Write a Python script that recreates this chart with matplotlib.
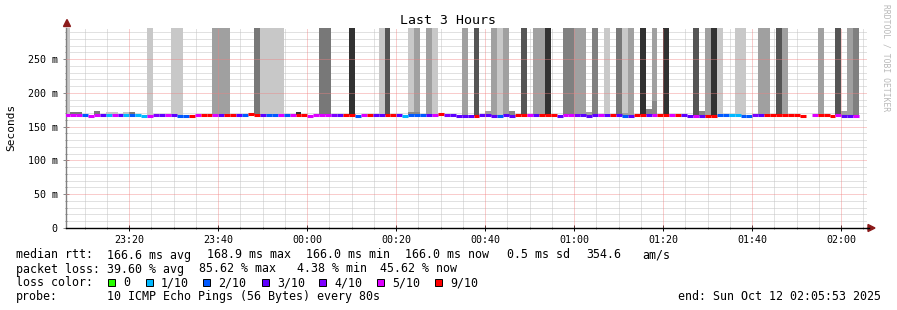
import numpy as np
import matplotlib
matplotlib.use("Agg")
import matplotlib.pyplot as plt
from matplotlib.patches import Polygon, Rectangle

# ---------------- data ----------------
title = "Last 3 Hours"
ylabel = "Seconds"
start_min = -54.12          # 23:05:53, minutes relative to midnight
end_min = 125.88            # 02:05:53
first_sample_min = -54.59   # start of first 80 s sample
step_sec = 80

xtick_min = [-40, -20, 0, 20, 40, 60, 80, 100, 120]
xtick_labels = ["23:20", "23:40", "00:00", "00:20", "00:40", "01:00", "01:20", "01:40", "02:00"]
ytick_vals = [0, 50, 100, 150, 200, 250]
ytick_labels = ["0", "50 m", "100 m", "150 m", "200 m", "250 m"]

nan = float("nan")
median_ms = [
    167.0, 167.0, 167.0, 167.0, 166.0, 167.0, 167.0, 167.0, 167.0, 167.0,
    167.0, 167.0, 167.0, 166.0, 166.0, 167.0, 167.0, 167.0, 167.0, 166.0,
    166.0, 166.0, 167.0, 167.0, 167.0, 167.0, 167.0, 167.0, 167.0, 167.0,
    167.0, 168.9, 167.0, 167.0, 167.0, 167.0, 167.0, 167.0, 167.0, 167.0,
    167.0, 166.0, 167.0, 167.0, 167.0, 167.0, 167.0, 167.0, 167.0, 166.0,
    167.0, 167.0, 167.0, 167.0, 167.0, 167.0, 167.0, 166.0, 167.0, 167.0,
    167.0, 167.0, 167.0, 168.9, 167.0, 167.0, 166.0, 166.0, 166.0, 166.0,
    167.0, 167.0, 166.0, 166.0, 167.0, 166.0, 167.0, 167.0, 167.0, 167.0,
    167.0, 167.0, 167.0, 166.0, 167.0, 167.0, 167.0, 167.0, 166.0, 167.0,
    167.0, 167.0, 167.0, 167.0, 166.0, 166.0, 167.0, 167.0, 167.0, 167.0,
    167.0, 167.0, 167.0, 167.0, 167.0, 166.0, 166.0, 166.0, 166.0, 166.0,
    167.0, 167.0, 167.0, 167.0, 166.0, 166.0, 167.0, 167.0, 167.0, 167.0,
    167.0, 167.0, 167.0, 167.0, 166.0, nan, 167.0, 167.0, 167.0, 166.0,
    167.0, 166.0, 166.0, 166.0,
]
loss_tenths = [
    5, 5, 5, 2, 5, 5, 3, 1, 5, 3,
    1, 2, 1, 1, 5, 4, 3, 5, 3, 2,
    2, 9, 5, 9, 9, 5, 3, 9, 9, 3,
    2, 9, 9, 3, 2, 2, 5, 2, 5, 9,
    9, 5, 5, 5, 5, 4, 3, 9, 9, 2,
    5, 9, 3, 3, 9, 9, 3, 1, 2, 2,
    2, 3, 5, 9, 4, 3, 3, 3, 3, 9,
    3, 3, 3, 2, 3, 3, 9, 9, 5, 3,
    9, 9, 9, 3, 5, 5, 4, 3, 3, 3,
    5, 3, 9, 3, 2, 3, 9, 9, 3, 5,
    9, 9, 5, 9, 3, 3, 5, 3, 9, 9,
    2, 2, 1, 1, 2, 2, 4, 3, 9, 9,
    9, 9, 9, 9, 9, None, 5, 9, 9, 9,
    5, 3, 3, 5,
]

# smoke: sample index (0 = first sample), top of smoke (ms), grey level
smoke_sample = [0, 14, 18, 19, 25, 26, 27, 32, 33, 34, 35, 36, 43, 44, 48, 53, 54,
                58, 59, 61, 62, 67, 69, 72, 73, 74, 77, 79, 80, 81, 84, 85, 86, 87,
                89, 91, 93, 94, 95, 97, 99, 101, 106, 108, 109, 110, 113, 114, 117,
                118, 120, 121, 127, 130, 132, 133,
                1, 2, 5, 7, 8, 10, 11, 39, 58, 59, 71, 75, 88, 94, 98, 99, 107, 131]
smoke_top_ms = [400] * 56 + [171, 171, 173, 171, 171, 171, 171, 172, 172, 172,
                             173.5, 173.5, 172, 170, 176, 188, 173, 173]
smoke_grey = [200, 200, 200, 200, 160, 160, 160, 120, 200, 200, 200, 200, 120, 120, 50,
              200, 85, 200, 160, 160, 200, 160, 85, 160, 200, 160, 85, 160, 160, 50,
              128, 128, 160, 160, 128, 200, 120, 200, 160, 50, 160, 50, 85, 160, 50,
              200, 200, 200, 160, 160, 85, 160, 160, 85, 160, 128,
              120, 120, 120, 200, 200, 200, 120, 50, 136, 136, 160, 136, 160, 160,
              136, 136, 136, 160]

loss_color = {0: "#26ff00", 1: "#00b8ff", 2: "#0059ff", 3: "#5e00ff",
              4: "#7e00ff", 5: "#dd00ff", 9: "#ff0000"}
legend_loss = [0, 1, 2, 3, 4, 5, 9]
legend_loss_labels = ["0", "1/10", "2/10", "3/10", "4/10", "5/10", "9/10"]

stats_rtt = ["166.6 ms avg", "168.9 ms max", "166.0 ms min", "166.0 ms now", "0.5 ms sd", "354.6", "am/s"]
stats_loss = ["39.60 % avg", "85.62 % max", "4.38 % min", "45.62 % now"]
probe_text = "10 ICMP Echo Pings (56 Bytes) every 80s"
end_text = "end: Sun Oct 12 02:05:53 2025"
credit = "RRDTOOL / TOBI OETIKER"

# ---------------- figure ----------------
W, H = 897, 310
fig = plt.figure(figsize=(W / 100, H / 100), dpi=100)
fig.patch.set_facecolor("white")
MONO = "DejaVu Sans Mono"


def fx(px):
    return px / W


def fy(py):
    return 1 - py / H


ax_left, ax_right, ax_top, ax_bot = 66.2, 867.2, 28.0, 228.0
ax = fig.add_axes([fx(ax_left), fy(ax_bot), (ax_right - ax_left) / W, (ax_bot - ax_top) / H])
ax.set_facecolor("white")
ax.set_xlim(start_min, end_min)
ax.set_ylim(0, 296)

step_min = step_sec / 60.0
t_start = [first_sample_min + i * step_min for i in range(len(median_ms))]

# grid (minor behind, major on top)
dot = (0, (1, 1))
minor_x = [m for m in np.arange(-50, 126, 5) if m % 20 != 0]
minor_y = [v for v in range(10, 300, 10) if v % 50 != 0]
for m in minor_x:
    ax.axvline(m, color="#c4c4c4", lw=0.72, ls=dot, zorder=0.5)
for v in minor_y:
    ax.axhline(v, color="#c4c4c4", lw=0.72, ls=dot, zorder=0.5)

# smoke
for s, top, g in zip(smoke_sample, smoke_top_ms, smoke_grey):
    b = median_ms[s]
    c = "#%02x%02x%02x" % (g, g, g)
    ax.bar(t_start[s], top - b, width=step_min, bottom=b, align="edge",
           color=c, linewidth=0, zorder=2, antialiased=False)

# median line coloured by loss
for t, m, l in zip(t_start, median_ms, loss_tenths):
    if l is None or np.isnan(m):
        continue
    lc = ax.hlines(m, t, t + step_min, colors=loss_color[l], lw=2.2, zorder=4)
    lc.set_capstyle("butt")

for m in xtick_min:
    ax.axvline(m, color="#f08080", lw=0.72, ls=dot, zorder=5, alpha=0.8)
for v in ytick_vals[1:]:
    ax.axhline(v, color="#f08080", lw=0.72, ls=dot, zorder=5, alpha=0.8)

ax.set_xticks(xtick_min)
ax.set_xticklabels(xtick_labels, fontfamily=MONO, fontsize=7.2)
ax.set_yticks(ytick_vals)
ax.set_yticklabels(ytick_labels, fontfamily=MONO, fontsize=7.2)
ax.set_xticks(minor_x, minor=True)
ax.set_yticks(minor_y, minor=True)
ax.tick_params(axis="both", which="major", direction="inout", length=4, width=0.7, pad=3, colors="black")
ax.tick_params(axis="both", which="minor", direction="inout", length=2, width=0.7, colors="#888888")
ax.tick_params(axis="y", which="major", colors="#888888", labelcolor="black", pad=4)
for sp in ["top", "right"]:
    ax.spines[sp].set_visible(False)
ax.spines["left"].set_color("#808080")
ax.spines["left"].set_linewidth(1.0)
ax.spines["bottom"].set_color("black")
ax.spines["bottom"].set_linewidth(1.0)
ax.spines["bottom"].set_zorder(6)

# arrows
arrow_col = "#8b1a1a"
fig.patches.append(Polygon([[fx(63.5), fy(26.5)], [fx(70.5), fy(26.5)], [fx(67), fy(19.5)]],
                           closed=True, transform=fig.transFigure, color=arrow_col))
fig.patches.append(Polygon([[fx(868), fy(224.5)], [fx(868), fy(231.5)], [fx(875), fy(228)]],
                           closed=True, transform=fig.transFigure, color=arrow_col))
fig.add_artist(plt.Line2D([fx(867), fx(869)], [fy(228), fy(228)], color="black", lw=1.0))

# titles
fig.text(fx(448), fy(20), title, ha="center", va="center", fontfamily=MONO, fontsize=9.5)
fig.text(fx(11), fy(127), ylabel, ha="center", va="center", rotation=90, fontfamily=MONO, fontsize=8)
fig.text(fx(886), fy(4), credit, ha="center", va="top", rotation=270, fontfamily=MONO,
         fontsize=5.8, color="#b8b8b8")

# legend rows
LF = 8.35
rows_y = [255, 269, 282.5, 296.5]
fig.text(fx(16), fy(rows_y[0]), "median rtt:", ha="left", va="center", fontfamily=MONO, fontsize=LF)
for s, xp in zip(stats_rtt, [107.3, 206.5, 305.5, 405, 506.7, 586, 642.7]):
    fig.text(fx(xp), fy(rows_y[0]), s, ha="left", va="center", fontfamily=MONO, fontsize=LF)
fig.text(fx(16), fy(rows_y[1]), "packet loss:", ha="left", va="center", fontfamily=MONO, fontsize=LF)
for s, xp in zip(stats_loss, [107.3, 199, 297, 380]):
    fig.text(fx(xp), fy(rows_y[1]), s, ha="left", va="center", fontfamily=MONO, fontsize=LF)
fig.text(fx(16), fy(rows_y[2]), "loss color:", ha="left", va="center", fontfamily=MONO, fontsize=LF)
box_x = [108, 146, 203, 262, 319, 377, 435]
for l, lab, bx in zip(legend_loss, legend_loss_labels, box_x):
    fig.patches.append(Rectangle((fx(bx), fy(rows_y[2] + 3.5)), 7 / W, 7 / H,
                                 transform=fig.transFigure, facecolor=loss_color[l],
                                 edgecolor="black", lw=0.7))
    fig.text(fx(bx + 15), fy(rows_y[2]), lab, ha="left", va="center", fontfamily=MONO, fontsize=LF)
fig.text(fx(16), fy(rows_y[3]), "probe:", ha="left", va="center", fontfamily=MONO, fontsize=LF)
fig.text(fx(107.3), fy(rows_y[3]), probe_text, ha="left", va="center", fontfamily=MONO, fontsize=LF)
fig.text(fx(880.5), fy(rows_y[3]), end_text, ha="right", va="center", fontfamily=MONO, fontsize=LF)

fig.savefig("out.png", dpi=100, facecolor="white")
